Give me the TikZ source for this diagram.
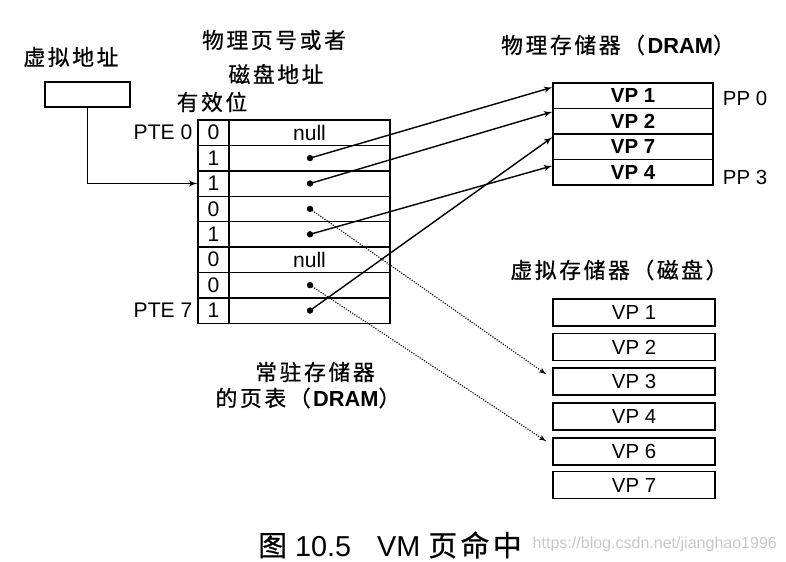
\documentclass[tikz,border=0pt]{standalone}
\usepackage{fontspec}
\setmainfont{Liberation Sans}
\newfontfamily\cjk{Noto Sans CJK SC}[LetterSpace=12,FakeBold=0.6]
\usetikzlibrary{arrows,calc}
\definecolor{markgray}{RGB}{200,200,200}
\tikzset{
  txt/.style = {inner sep=0pt, font=\fontsize{15.5}{17}\selectfont},% titles and labels
  va_c/.style = {rectangle, draw=black, inner sep=0pt,
    minimum width=2.125cm, minimum height=0.625cm},% virtual address box
  bit_c/.style = {rectangle, draw=black, inner sep=0pt,
    minimum width=0.775cm, minimum height=0.635cm, font=\fontsize{15}{17}\selectfont},% valid bit
  addr_c/.style = {rectangle, draw=black, inner sep=0pt,
    minimum width=4.025cm, minimum height=0.635cm, font=\fontsize{15}{17}\selectfont},% page number / disk address
  dram_c/.style = {rectangle, draw=black, inner sep=0pt,
    minimum width=4cm, minimum height=0.6375cm, font=\fontsize{14.5}{16}\selectfont\bfseries},% physical page
  disk_c/.style = {rectangle, draw=black, inner sep=0pt,
    minimum width=4.05cm, minimum height=0.675cm, font=\fontsize{14.5}{16}\selectfont},% virtual page on disk
  pdot/.style = {circle, fill=black, inner sep=0pt, minimum size=0.16cm},
  ptr/.style = {->, black},
  ptr_d/.style = {->, black, densely dotted, line width=0.8pt},
}

\begin{document}
\begin{tikzpicture}[x=0.025cm,y=-0.025cm,>=latex',line width=1pt]
  \useasboundingbox (0,0) rectangle (786,561);

  % virtual address
  \node[txt] (va_t) at (71,57) {\cjk 虚拟地址};
  \node[va_c] (va) at (87.5,94.5) {};

  % page table headers
  \node[txt] (h1) at (274,40) {\cjk 物理页号或者};
  \node[txt] (h2) at (276,74) {\cjk 磁盘地址};
  \node[txt] (h3) at (212,102) {\cjk 有效位};

  % page table
  \node[bit_c] (v0) at (213.5,132.7) {0};
  \node[addr_c] (p0) at (309.5,132.7) {null};
  \node[bit_c] (v1) at (213.5,158.1) {1};
  \node[addr_c] (p1) at (309.5,158.1) {};
  \node[bit_c] (v2) at (213.5,183.5) {1};
  \node[addr_c] (p2) at (309.5,183.5) {};
  \node[bit_c] (v3) at (213.5,208.9) {0};
  \node[addr_c] (p3) at (309.5,208.9) {};
  \node[bit_c] (v4) at (213.5,234.3) {1};
  \node[addr_c] (p4) at (309.5,234.3) {};
  \node[bit_c] (v5) at (213.5,259.7) {0};
  \node[addr_c] (p5) at (309.5,259.7) {null};
  \node[bit_c] (v6) at (213.5,285.1) {0};
  \node[addr_c] (p6) at (309.5,285.1) {};
  \node[bit_c] (v7) at (213.5,310.5) {1};
  \node[addr_c] (p7) at (309.5,310.5) {};

  \node[txt, anchor=east, font=\fontsize{15}{17}\selectfont] (pte0) at (193,132.7) {PTE 0};
  \node[txt, anchor=east, font=\fontsize{15}{17}\selectfont] (pte7) at (193,310.5) {PTE 7};

  \node[pdot] (d1) at (310,158.1) {};
  \node[pdot] (d2) at (310,183.5) {};
  \node[pdot] (d3) at (310,208.9) {};
  \node[pdot] (d4) at (310,234.3) {};
  \node[pdot] (d6) at (310,285.1) {};
  \node[pdot] (d7) at (310,310.5) {};

  \node[txt] (f1) at (315,372) {\cjk 常驻存储器};
  \node[txt] (f2) at (308,398) {{\cjk 的页表（}\textbf{DRAM}{\cjk ）}};

  % physical memory
  \node[txt] (m_t) at (618,45) {{\cjk 物理存储器（}\textbf{DRAM}{\cjk ）}};
  \node[dram_c] (m1) at (633,95.75) {VP 1};
  \node[dram_c] (m2) at (633,121.25) {VP 2};
  \node[dram_c] (m3) at (633,146.75) {VP 7};
  \node[dram_c] (m4) at (633,172.25) {VP 4};
  \node[txt, font=\fontsize{14.5}{16}\selectfont] (pp0) at (745,98) {PP 0};
  \node[txt, font=\fontsize{14.5}{16}\selectfont] (pp3) at (745,177) {PP 3};

  % virtual memory (disk)
  \node[txt] (k_t) at (619,270) {{\cjk 虚拟存储器（磁盘）}};
  \node[disk_c] (k1) at (634,312.5) {VP 1};
  \node[disk_c] (k2) at (634,347) {VP 2};
  \node[disk_c] (k3) at (634,381.5) {VP 3};
  \node[disk_c] (k4) at (634,416.5) {VP 4};
  \node[disk_c] (k5) at (634,451.5) {VP 6};
  \node[disk_c] (k6) at (634,485) {VP 7};

  \coordinate (m1_in) at ($(m1.north west)+(0,5)$);
  \coordinate (m2_in) at ($(m2.north west)+(0,4)$);
  \coordinate (m3_in) at ($(m3.north west)+(0,4)$);
  \coordinate (m4_in) at ($(m4.north west)+(0,7)$);
  \coordinate (k3_in) at ($(k3.north west)+(-6,7)$);
  \coordinate (k5_in) at ($(k5.north west)+(-6,4)$);

  % address lookup
  \draw[ptr] (va.south) |- (v2.west);

  % resident pages
  \path[ptr] (d1.center) edge (m1_in);
  \path[ptr] (d2.center) edge (m2_in);
  \path[ptr] (d4.center) edge (m4_in);
  \path[ptr] (d7.center) edge (m3_in);
  % pages on disk
  \path[ptr_d] (d3.center) edge (k3_in);
  \path[ptr_d] (d6.center) edge (k5_in);

  % caption
  \node[txt, font=\fontsize{20.5}{23}\selectfont] (cap) at (390,545) {{\cjk 图} 10.5\hspace{0.9em}VM {\cjk 页命中}};
  \node[txt, anchor=west, text=markgray, font=\fontsize{11.4}{13}\selectfont] (mark) at (532,544) {https://blog.csdn.net/jianghao1996};
\end{tikzpicture}
\end{document}
